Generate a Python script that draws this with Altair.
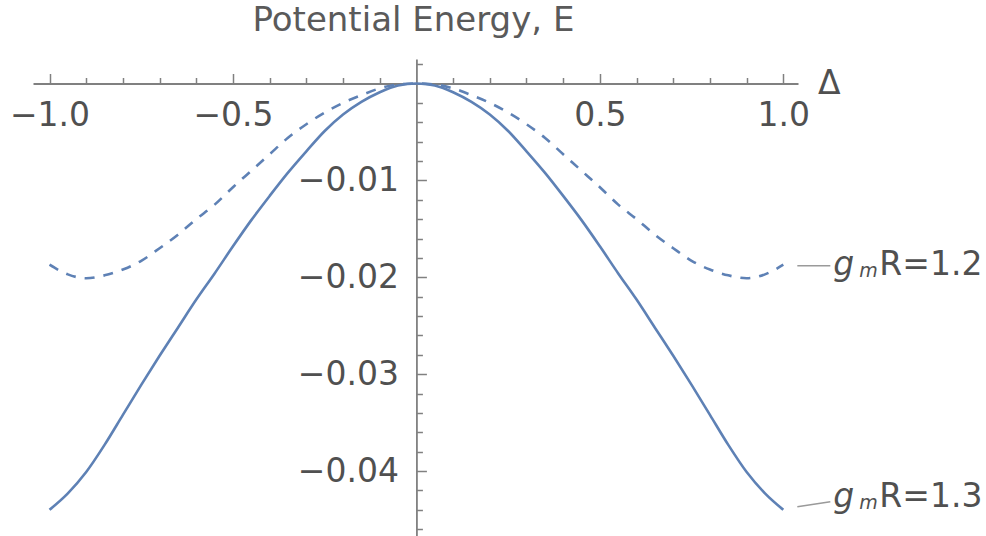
import altair as alt
import pandas as pd

# ---------------- data ----------------
delta = [-1.0, -0.95, -0.9, -0.85, -0.8, -0.75, -0.7, -0.65, -0.6, -0.55, -0.5,
         -0.45, -0.4, -0.35, -0.3, -0.25, -0.2, -0.15, -0.1, -0.05, 0.0,
         0.05, 0.1, 0.15, 0.2, 0.25, 0.3, 0.35, 0.4, 0.45, 0.5,
         0.55, 0.6, 0.65, 0.7, 0.75, 0.8, 0.85, 0.9, 0.95, 1.0]

# g_m R = 1.3 (solid)
energy_13 = [-0.0440, -0.0423, -0.0401, -0.0373, -0.0342, -0.0311, -0.0281, -0.0252, -0.0223, -0.0196, -0.0168,
             -0.0141, -0.0116, -0.0092, -0.0070, -0.0049, -0.0032, -0.0019, -0.0009, -0.0002, 0.0,
             -0.0002, -0.0009, -0.0019, -0.0032, -0.0049, -0.0070, -0.0092, -0.0116, -0.0141, -0.0168,
             -0.0196, -0.0223, -0.0252, -0.0281, -0.0311, -0.0342, -0.0373, -0.0401, -0.0423, -0.0440]

# g_m R = 1.2 (dashed)
energy_12 = [-0.0187, -0.0197, -0.0201, -0.0198, -0.0192, -0.0183, -0.0170, -0.0156, -0.0140, -0.0125, -0.0107,
             -0.0090, -0.0073, -0.0056, -0.0042, -0.0030, -0.0020, -0.0012, -0.0005, -0.0001, 0.0,
             -0.0001, -0.0005, -0.0012, -0.0020, -0.0030, -0.0042, -0.0056, -0.0073, -0.0090, -0.0107,
             -0.0125, -0.0140, -0.0156, -0.0170, -0.0183, -0.0192, -0.0198, -0.0201, -0.0197, -0.0187]

x_ticks = [-1.0, -0.9, -0.8, -0.7, -0.6, -0.5, -0.4, -0.3, -0.2, -0.1,
           0.1, 0.2, 0.3, 0.4, 0.5, 0.6, 0.7, 0.8, 0.9, 1.0]
y_ticks = [-0.046, -0.044, -0.042, -0.04, -0.038, -0.036, -0.034, -0.032, -0.03,
           -0.028, -0.026, -0.024, -0.022, -0.02, -0.018, -0.016, -0.014, -0.012,
           -0.01, -0.008, -0.006, -0.004, -0.002, 0.002]

title_text = "Potential Energy, E"
x_title = "Δ"
series_labels = ["R=1.2", "R=1.3"]

# ---------------- layout ----------------
W, H = 765, 477
X_DOMAIN = [-1.045, 1.04]
Y_DOMAIN = [-0.0467, 0.00253]
x0_px = W * (0 - X_DOMAIN[0]) / (X_DOMAIN[1] - X_DOMAIN[0])
y0_px = H * (Y_DOMAIN[1] - 0) / (Y_DOMAIN[1] - Y_DOMAIN[0])

FONT = "DejaVu Sans"
AXIS_COLOR = "#808080"
LABEL_COLOR = "#505050"
LINE_COLOR = "#5e81b5"

xscale = alt.Scale(domain=X_DOMAIN, nice=False, zero=False)
yscale = alt.Scale(domain=Y_DOMAIN, nice=False, zero=False)

x_axis = alt.Axis(
    orient="top", values=x_ticks, offset=-y0_px, grid=False, title=None,
    domainColor=AXIS_COLOR, domainWidth=1.8, tickColor=AXIS_COLOR, tickWidth=1.5,
    tickSize={"condition": {"test": "abs(round(datum.value*10)) % 5 == 0", "value": 10}, "value": 6},
    labelExpr="abs(round(datum.value*10)) % 5 == 0 ? datum.label : ''",
    format=".1f", labelBaseline="alphabetic", labelPadding=-51.5,
    labelFont=FONT, labelFontSize=33, labelColor=LABEL_COLOR, labelOverlap=False,
    labelFlush=False,
)
y_axis = alt.Axis(
    orient="right", values=y_ticks, offset=x0_px - W, grid=False, title=None,
    domainColor=AXIS_COLOR, domainWidth=1.8, tickColor=AXIS_COLOR, tickWidth=1.5,
    tickSize={"condition": {"test": "abs(round(datum.value*500)) % 5 == 0", "value": 10}, "value": 6},
    labelExpr="abs(round(datum.value*500)) % 5 == 0 ? datum.label : ''",
    format=".2f", labelAlign="right", labelBaseline="middle", labelPadding=-28,
    labelFont=FONT, labelFontSize=33, labelColor=LABEL_COLOR, labelOverlap=False,
    labelFlush=False,
)


def X(field):
    return alt.X(field, scale=xscale, axis=x_axis)


def Y(field):
    return alt.Y(field, scale=yscale, axis=y_axis)


df13 = pd.DataFrame({"delta": delta, "E": energy_13})
df12 = pd.DataFrame({"delta": delta, "E": energy_12})

solid = alt.Chart(df13).mark_line(
    color=LINE_COLOR, strokeWidth=2.6, interpolate="monotone"
).encode(x=X("delta:Q"), y=Y("E:Q"))

dashed = alt.Chart(df12).mark_line(
    color=LINE_COLOR, strokeWidth=2.6, strokeDash=[10, 9], interpolate="monotone"
).encode(x=X("delta:Q"), y=Y("E:Q"))


def text_layer(xv, yv, txt, **kw):
    d = pd.DataFrame({"x": [xv], "y": [yv], "t": [txt]})
    return alt.Chart(d).mark_text(font=FONT, **kw).encode(
        x=X("x:Q"), y=Y("y:Q"), text="t:N",
    )


def rule_layer(xv, yv, **kw):
    d = pd.DataFrame({"x": [xv], "y": [yv]})
    return alt.Chart(d).mark_rule(**kw).encode(
        x=X("x:Q"), x2="x:Q", y=Y("y:Q"), y2="y:Q",
    )


title = text_layer(0.0, 0.0, title_text, fontSize=34, color="#5a5a5a",
                   align="center", baseline="alphabetic", dx=-3, dy=-52.5)
delta_lbl = text_layer(X_DOMAIN[1], 0.0, x_title, fontSize=33, color=LABEL_COLOR,
                       align="left", baseline="alphabetic", dx=20, dy=10.5)

layers = [solid, dashed, title, delta_lbl]

label_specs = [
    (energy_12[-1], series_labels[0], 10.5, 1, 1),
    (energy_13[-1], series_labels[1], -3, -3, -8),
]
for yv, lbl, dy, r1, r2 in label_specs:
    xe = delta[-1]
    layers.append(rule_layer(xe, yv, color="#9a9a9a", strokeWidth=1.5,
                             xOffset=14, x2Offset=47, yOffset=r1, y2Offset=r2))
    layers.append(text_layer(xe, yv, "g", fontSize=33, fontStyle="italic",
                             color=LABEL_COLOR, align="left", baseline="alphabetic",
                             dx=50, dy=dy))
    layers.append(text_layer(xe, yv, "m", fontSize=19, fontStyle="italic",
                             color=LABEL_COLOR, align="left", baseline="alphabetic",
                             dx=76, dy=dy + 2))
    layers.append(text_layer(xe, yv, lbl, fontSize=33, color=LABEL_COLOR,
                             align="left", baseline="alphabetic", dx=96, dy=dy))

chart = alt.layer(*layers).properties(
    width=W, height=H,
    padding={"left": 33, "top": 59, "right": 188, "bottom": 0},
    autosize=alt.AutoSizeParams(type="none"),
    background="white",
).configure_view(stroke=None)

chart.save("out.html", embed_options={"renderer": "svg", "actions": False})
